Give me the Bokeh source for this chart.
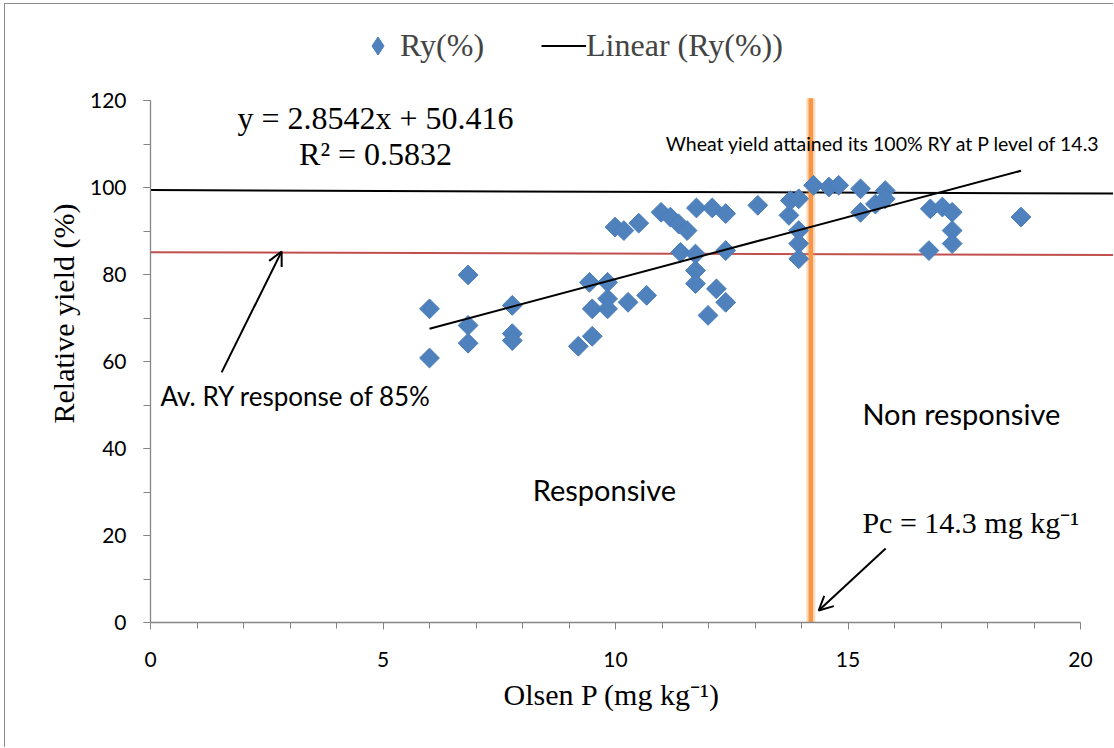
import numpy as np
from bokeh.plotting import figure
from bokeh.models import (Range1d, LinearAxis, SingleIntervalTicker, Label, Arrow,
                          OpenHead, Legend, LegendItem, Title)
from bokeh.embed import file_html
from bokeh.resources import INLINE

# ---- data ----
olsen_p = [6.0, 6.0, 6.83, 6.83, 6.83, 7.78, 7.78, 7.78, 9.2, 9.5, 9.44, 9.5,
           9.83, 9.83, 9.83, 10.27, 10.67, 9.99, 10.18, 10.5, 10.98, 11.18, 11.36,
           11.54, 11.4, 11.72, 11.72, 11.72, 11.74, 12.08, 12.37, 12.37, 12.17,
           12.37, 11.99, 13.06, 13.73, 13.76, 13.94, 13.94, 13.94, 13.94, 14.26,
           14.59, 14.8, 15.27, 15.27, 15.59, 15.8, 15.8, 16.77, 17.03, 17.24,
           17.24, 17.24, 16.74, 18.72]
ry_pct = [72.1, 60.8, 79.9, 68.3, 64.2, 72.9, 66.4, 64.8, 63.5, 65.8, 78.2, 72.1,
          78.2, 74.4, 72.1, 73.6, 75.2, 90.9, 90.1, 91.8, 94.3, 93.2, 91.6,
          90.1, 85.1, 84.7, 80.9, 77.9, 95.3, 95.3, 94.0, 85.5, 76.7,
          73.6, 70.6, 95.9, 93.6, 97.0, 97.4, 90.1, 87.1, 83.6, 100.5,
          100.1, 100.5, 99.7, 94.3, 96.2, 99.3, 97.4, 95.1, 95.5, 94.3,
          90.1, 87.1, 85.5, 93.2]
slope = 2.8542
intercept = 50.416
pc_value = 14.2
ry100_line_x = [0.0, 20.73]
ry100_line_y = [99.4, 98.6]
ry85_line_x = [0.0, 20.73]
ry85_line_y = [85.1, 84.5]
x_ticks_interval = 5
y_ticks_interval = 20

trend_x = [min(olsen_p), max(olsen_p)]
trend_y = [slope * v + intercept for v in trend_x]

SERIF = "Liberation Serif"
SANS = "Lato"
BLUE = "#4F81BD"
BLUE_EDGE = "#4A7EBB"

p = figure(width=1109, height=744, output_backend="svg", toolbar_location=None,
           x_range=Range1d(0, 20.731), y_range=Range1d(0, 142.07),
           min_border_left=145, min_border_right=0, min_border_top=0,
           min_border_bottom=126, x_axis_type=None, y_axis_type=None)
p.outline_line_color = None
p.background_fill_color = "white"
p.border_fill_color = "white"
p.styles = {"margin-left": "4px", "margin-top": "3px",
            "border-left": "1px solid #8c8c8c", "border-top": "1px solid #8c8c8c"}

xaxis = LinearAxis(ticker=SingleIntervalTicker(interval=x_ticks_interval, num_minor_ticks=5),
                   bounds=(0, 20))
yaxis = LinearAxis(ticker=SingleIntervalTicker(interval=y_ticks_interval, num_minor_ticks=2),
                   bounds=(0, 120))
for ax in (xaxis, yaxis):
    ax.axis_line_color = "#868686"
    ax.axis_line_width = 1.3
    ax.major_tick_line_color = "#868686"
    ax.minor_tick_line_color = "#868686"
    ax.major_tick_in = 0
    ax.minor_tick_in = 0
    ax.major_tick_out = 7
    ax.minor_tick_out = 6
    ax.major_label_text_font = SANS
    ax.major_label_text_font_size = "21px"
    ax.major_label_text_color = "black"
yaxis.minor_tick_out = 7
xaxis.major_label_standoff = 22
yaxis.major_label_standoff = 17
p.add_layout(xaxis, "below")
p.add_layout(yaxis, "left")

p.add_layout(Title(text="Olsen P (mg kg⁻¹)", text_font=SERIF, text_font_size="30px",
                   text_font_style="normal", text_color="black",
                   align="left", offset=353, standoff=12),
             "below")
p.add_layout(Title(text="Relative yield (%)", text_font=SERIF, text_font_size="30px",
                   text_font_style="normal", text_color="black",
                   align="center", offset=-47, standoff=14),
             "left")

# reference lines
p.line(ry85_line_x, ry85_line_y, line_color="#C0504D", line_width=2)
p.line(ry100_line_x, ry100_line_y, line_color="black", line_width=2)

# Pc vertical line
p.line([pc_value, pc_value], [0, 120.5], line_color="#F79646", line_width=9, line_alpha=0.35)
p.line([pc_value, pc_value], [0, 120.5], line_color="#F79646", line_width=4.5)

r_sc = p.scatter(olsen_p, ry_pct, marker="square", angle=np.pi / 4, size=14,
                 fill_color=BLUE, line_color=BLUE_EDGE, line_width=1)
# legend swatch: a diamond drawn inside the first point (hidden by it)
r_leg = p.scatter(olsen_p[:1], ry_pct[:1], marker="diamond", size=17,
                  fill_color=BLUE, line_color=BLUE_EDGE, line_width=1)
r_tr = p.line(trend_x, trend_y, line_color="black", line_width=2)

legend = Legend(items=[LegendItem(label="Ry(%)", renderers=[r_leg]),
                       LegendItem(label="Linear (Ry(%))", renderers=[r_tr])],
                orientation="horizontal", location=(205, 554),
                label_text_font=SERIF, label_text_font_size="32px",
                glyph_width=45, glyph_height=45, label_standoff=0, spacing=57,
                padding=0, margin=0, border_line_color=None,
                background_fill_alpha=0)
p.add_layout(legend)

def lab(x, y, text, font, size, align="left", angle=0.0):
    p.add_layout(Label(x=x, y=y, text=text, text_font=font, text_font_size=size,
                       text_align=align, text_baseline="middle", angle=angle,
                       text_color="black"))

lab(4.84, 115.9, "y = 2.8542x + 50.416", SERIF, "32px", "center")
lab(4.84, 107.8, "R² = 0.5832", SERIF, "32px", "center")
lab(11.08, 110.1, "Wheat yield attained its 100% RY at P level of 14.3", SANS, "19.5px")
lab(0.215, 52.0, "Av. RY response of 85%", SANS, "26px")
lab(15.31, 48.0, "Non responsive", SANS, "29px")
lab(8.22, 30.6, "Responsive", SANS, "29px")
lab(15.31, 23.0, "Pc = 14.3 mg kg⁻¹", SERIF, "30px")

# arrows
p.add_layout(Arrow(end=OpenHead(size=14, line_width=2, line_color="black"),
                   x_start=1.53, y_start=57.5, x_end=2.82, y_end=85.3,
                   line_width=2, line_color="black"))
p.add_layout(Arrow(end=OpenHead(size=14, line_width=2, line_color="black"),
                   x_start=15.81, y_start=17.0, x_end=14.37, y_end=2.76,
                   line_width=2, line_color="black"))

open("out.html", "w").write(file_html(p, INLINE))
